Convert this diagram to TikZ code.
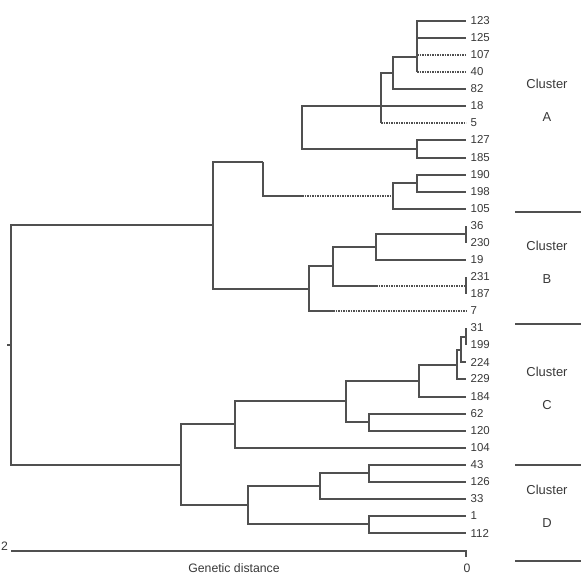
\documentclass[tikz,border=0pt]{standalone}
\usepackage{fontspec}
\setmainfont{Liberation Sans}
\usetikzlibrary{positioning}
\definecolor{cLine}{HTML}{505050}
\definecolor{cInk}{HTML}{383838}
\tikzset{
  branch/.style={draw=cLine, line width=1.6bp},
  gapline/.style={branch, dash pattern=on 1.5bp off 1bp},
  leaf/.style={anchor=west, inner sep=0pt, xshift=4.5bp, text=cInk,
    font=\fontsize{11.5}{12}\selectfont},
  clab/.style={text=cInk, font=\fontsize{13}{14}\selectfont},
  axlab/.style={text=cInk, font=\fontsize{12.3}{13}\selectfont},
  divider/.style={draw=cLine, line width=1.8bp},
}

\begin{document}
\begin{tikzpicture}[x=1bp, y=-1bp]
  \useasboundingbox (0,0) rectangle (586,581);

  % ---------- leaves ----------
  \foreach \lab [count=\i from 0] in {123,125,107,40,82,18,5,127,185,190,198,105,
      36,230,19,231,187,7,31,199,224,229,184,62,120,104,43,126,33,1,112} {
    \coordinate (t\lab) at (466,{round(21+17.07*\i)});
    \node[leaf] (l\lab) at (t\lab) {\lab};
  }

  % ---------- inner nodes ----------
  \coordinate (a1) at (417,57);
  \coordinate (a2) at (393,73);
  \coordinate (a3) at (381,106);
  \coordinate (a4) at (417,149);
  \coordinate (a5) at (302,128);
  \coordinate (a6) at (417,183);
  \coordinate (a7) at (393,196);
  \coordinate (a8) at (263,162);
  \coordinate (p36) at (466,234);
  \coordinate (b2) at (376,247);
  \coordinate (p231) at (466,286);
  \coordinate (b1) at (333,266);
  \coordinate (b0) at (309,289);
  \coordinate (ab) at (213,225);
  \coordinate (p31) at (466,337);
  \coordinate (c2) at (461,350);
  \coordinate (c3) at (457,365);
  \coordinate (c4) at (419,381);
  \coordinate (c5) at (369,422);
  \coordinate (c6) at (346,401);
  \coordinate (c7) at (235,424);
  \coordinate (d1) at (369,473);
  \coordinate (d2) at (320,486);
  \coordinate (d3) at (369,524);
  \coordinate (d4) at (248,505);
  \coordinate (cd) at (181,465);
  \coordinate (root) at (11,345);
  \coordinate (rtick) at (7,345);

  % where a branch turns dotted
  \coordinate (a7s) at (302,196);
  \coordinate (b1s) at (376,286);
  \coordinate (b0s) at (333,311);

  % ---------- branches ----------
  \foreach \p/\c in {a1/t123, a1/t125, a2/a1, a2/t82, a3/a2, a3/t18, a5/a3, a5/a4,
      a4/t127, a4/t185, a6/t190, a6/t198, a7/a6, a7/t105, ab/a8, ab/b0,
      b0/b1, b1/b2, b2/p36, b2/t19, c2/p31, c2/t224, c3/c2, c3/t229,
      c4/c3, c4/t184, c5/t62, c5/t120, c6/c4, c6/c5, c7/c6, c7/t104,
      cd/c7, cd/d4, d4/d2, d4/d3, d2/d1, d2/t33, d1/t43, d1/t126,
      d3/t1, d3/t112, root/ab, root/cd}
    \draw[branch] (\p) |- (\c);

  \draw[branch] (a1) -- (t40 -| a1);
  \draw[branch] (a3) -- (t5 -| a3);
  \foreach \p/\c in {a1/t107, a1/t40, a3/t5}
    \draw[gapline] (\c -| \p) -- (\c);

  \draw[branch] (a8) |- (a7s);
  \draw[gapline] (a7s) -- (a7);
  \draw[branch] (b1) |- (b1s);
  \draw[gapline] (b1s) -- (p231);
  \draw[branch] (b0) |- (b0s);
  \draw[gapline] (b0s) -- (t7);

  % zero-length pairs
  \draw[branch] (t36) -- (t230);
  \draw[branch] (t231) -- (t187);
  \draw[branch] (t31) -- (t199);
  \draw[branch] (rtick) -- (root);

  % ---------- scale ----------
  \coordinate (s2) at (11,551);
  \coordinate (s0) at (466,551);
  \draw[branch] (s2) -- (s0) -- ++(0,6);
  \node[axlab] (n2) at (4.5,546) {2};
  \node[axlab] (n0) at (467,568) {0};
  \node[axlab] (gd) at (234,568) {Genetic distance};

  % ---------- clusters ----------
  \foreach \yy in {212,324,465,561}
    \draw[divider] (515,\yy) -- (581,\yy);
  \foreach \nm/\yy in {A/84, B/246, C/372, D/490} {
    \node[clab] (cl\nm) at (547,\yy) {Cluster};
    \node[clab] (id\nm) at (547,\yy+33) {\nm};
  }

\end{tikzpicture}
\end{document}
